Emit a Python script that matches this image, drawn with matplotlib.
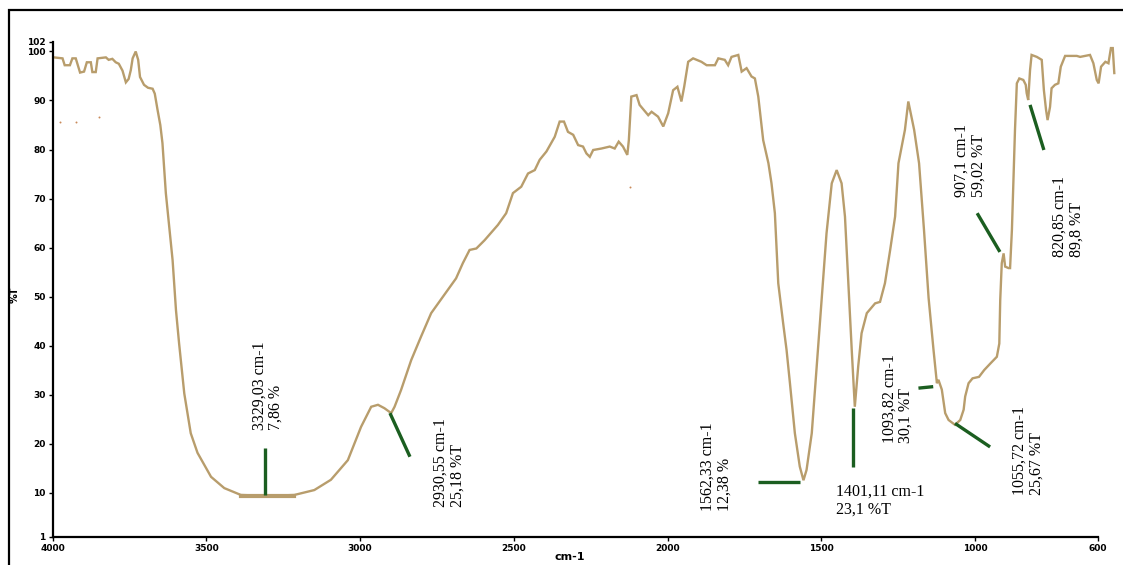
import numpy as np
import matplotlib
matplotlib.use("Agg")
import matplotlib.pyplot as plt
from matplotlib.patches import Rectangle

# FTIR spectrum: wavenumber (cm-1) and transmittance (%T)
wavenumber = [3996, 3968, 3961, 3944, 3936, 3925, 3911, 3898, 3889, 3876, 3871, 3860, 3854,
              3827, 3818, 3806, 3795, 3785, 3773, 3762, 3753, 3746, 3740, 3730, 3722, 3716,
              3703, 3690, 3675, 3668, 3659, 3650, 3643, 3632, 3621, 3610, 3599, 3589, 3572,
              3551, 3529, 3485, 3442, 3388, 3300, 3214, 3149, 3095, 3040, 2997, 2964, 2942,
              2921, 2899, 2888, 2867, 2834, 2802, 2769, 2730, 2688, 2666, 2644, 2622, 2595,
              2552, 2525, 2503, 2476, 2454, 2432, 2416, 2394, 2367, 2351, 2337, 2324, 2307,
              2291, 2275, 2264, 2253, 2242, 2215, 2188, 2172, 2159, 2145, 2131, 2126, 2118,
              2101, 2091, 2063, 2052, 2031, 2014, 1998, 1982, 1968, 1955, 1946, 1933, 1917,
              1890, 1873, 1846, 1835, 1814, 1803, 1792, 1770, 1759, 1743, 1727, 1716, 1705,
              1689, 1672, 1662, 1651, 1640, 1624, 1613, 1602, 1586, 1570, 1558, 1548, 1531,
              1515, 1499, 1483, 1466, 1450, 1434, 1423, 1412, 1401, 1391, 1380, 1369, 1352,
              1325, 1309, 1293, 1276, 1260, 1249, 1228, 1217, 1198, 1182, 1166, 1151, 1135,
              1124, 1119, 1108, 1097, 1086, 1065, 1048, 1037, 1032, 1021, 1008, 987, 970,
              949, 929, 921, 918, 913, 907, 902, 891, 886, 880, 870, 864, 856, 843, 835,
              832, 827, 821, 816, 799, 783, 776, 769, 764, 756, 751, 740, 729, 721, 707,
              669, 658, 626, 615, 604, 598, 590, 576, 566, 558, 552, 547]
transmittance = [98.8, 98.6, 97.2, 97.2, 98.6, 98.6, 95.7, 95.9, 97.8, 97.8, 95.8, 95.8, 98.6,
                 98.8, 98.3, 98.5, 97.8, 97.5, 96.1, 93.7, 94.4, 96.2, 98.6, 100.0, 98.3, 94.8,
                 93.2, 92.6, 92.4, 91.4, 88.1, 85.0, 81.3, 71.1, 64.2, 57.4, 47.2, 40.5, 30.2,
                 22.1, 18.1, 13.2, 10.9, 9.5, 9.3, 9.5, 10.5, 12.6, 16.6, 23.4, 27.5, 27.9,
                 27.2, 26.2, 27.5, 30.9, 37.0, 41.8, 46.6, 50.0, 53.7, 56.8, 59.5, 59.8, 61.5,
                 64.6, 67.0, 71.1, 72.4, 75.1, 75.8, 77.9, 79.6, 82.6, 85.7, 85.7, 83.6, 83.0,
                 80.9, 80.6, 79.2, 78.5, 79.9, 80.2, 80.6, 80.2, 81.6, 80.6, 78.9, 81.9, 90.8,
                 91.1, 89.1, 87.0, 87.7, 86.7, 84.7, 87.4, 92.1, 92.8, 89.8, 92.8, 97.9, 98.6,
                 97.9, 97.2, 97.2, 98.6, 98.3, 97.2, 98.9, 99.3, 95.9, 96.6, 94.9, 94.5, 90.8,
                 81.9, 77.2, 73.1, 67.0, 52.7, 44.5, 39.1, 32.3, 22.1, 15.3, 12.5, 14.6, 22.1,
                 35.7, 49.3, 62.9, 73.1, 75.8, 73.1, 66.3, 52.7, 39.1, 27.5, 35.7, 42.5, 46.6,
                 48.6, 48.9, 52.7, 59.5, 66.3, 77.2, 84.0, 89.8, 84.0, 77.2, 63.6, 49.7, 39.1,
                 32.3, 33.0, 31.0, 26.2, 24.8, 23.8, 24.8, 26.9, 29.6, 32.3, 33.3, 33.6, 35.0,
                 36.4, 37.7, 40.4, 49.3, 56.8, 58.8, 56.1, 55.8, 55.8, 63.6, 84.0, 93.5, 94.5,
                 94.2, 93.2, 91.5, 90.1, 96.2, 99.3, 98.9, 98.3, 92.1, 88.1, 86.0, 88.7, 92.5,
                 93.2, 93.5, 96.9, 99.1, 99.1, 98.9, 99.3, 97.6, 94.2, 93.5, 96.9, 97.9, 97.6,
                 100.7, 100.7, 95.6]

# stray specks of the trace
speck_wn = [3976, 3924, 3849, 2121]
speck_t = [85.7, 85.6, 86.6, 72.4]

# peak labels: text, text anchor (wn, %T), rotation, leader line (wn1, T1, wn2, T2)
label_text = ["3329,03 cm-1\n7,86 %", "2930,55 cm-1\n25,18 %T", "1562,33 cm-1\n12,38 %",
              "1401,11 cm-1\n23,1 %T", "1093,82 cm-1\n30,1 %T", "1055,72 cm-1\n25,67 %T",
              "907,1 cm-1\n59,02 %T", "820,85 cm-1\n89,8 %T"]
label_wn = [3301, 2711, 1842, 1452, 1252, 828, 1016, 697]
label_t = [22.8, 7.0, 6.2, 8.3, 20.2, 9.5, 70.3, 58.1]
label_rot = [90, 90, 90, 0, 90, 90, 90, 90]
leader_wn = [(3309, 3309), (2903, 2838), (1705, 1569), (1396, 1396),
             (1184, 1136), (1065, 951), (993, 919), (821, 776)]
leader_t = [(19.1, 9.5), (26.2, 17.3), (12.1, 12.1), (27.2, 15.3),
            (31.3, 31.6), (24.1, 19.3), (67.0, 59.1), (89.1, 79.9)]

xticks = [4000, 3500, 3000, 2500, 2000, 1500, 1000, 600]
yticks = [1, 10, 20, 30, 40, 50, 60, 70, 80, 90, 100, 102]

W, H = 1123, 565
fig = plt.figure(figsize=(W / 100, H / 100), dpi=100)
ax = fig.add_axes([52.7 / W, (H - 536.6) / H, (1118 - 52.7) / W, (536.6 - 30) / H])

trace = "#b89d6c"
ax.plot(wavenumber, transmittance, color=trace, lw=1.7, solid_joinstyle="miter")
ax.plot([3388, 3214], [9.3, 9.3], color=trace, lw=3.0)
ax.scatter(speck_wn, speck_t, s=2, color="#c98a5a", lw=0)

for i in range(len(label_text)):
    ax.plot(leader_wn[i], leader_t[i], color="#1b5e20", lw=2.4, solid_capstyle="butt")
    if label_rot[i] == 90:
        ax.text(label_wn[i], label_t[i], label_text[i], rotation=90, rotation_mode="anchor",
                ha="left", va="center", family="Liberation Serif", fontsize=11.5, linespacing=1.05)
    else:
        ax.text(label_wn[i], label_t[i], label_text[i], ha="left", va="center",
                family="Liberation Serif", fontsize=11.5, linespacing=1.15)

ax.set_xlim(4000, 4000 - (1118 - 52.7) / 0.30744)
ax.set_ylim(1, 100 + 21.5 / 4.9)
ax.spines["top"].set_visible(False)
ax.spines["right"].set_visible(False)
ax.spines["left"].set_bounds(1, 102)
ax.spines["bottom"].set_bounds(600, 4000)
ax.spines["left"].set_linewidth(1.6)
ax.spines["bottom"].set_linewidth(1.6)
ax.set_xticks(xticks)
ax.set_yticks(yticks)
ax.set_xticklabels([str(v) for v in xticks])
ax.set_yticklabels([str(v) for v in yticks])
ax.tick_params(direction="out", length=3, width=1, pad=2, labelsize=6.5)
for lab in ax.get_xticklabels() + ax.get_yticklabels():
    lab.set_fontweight("bold")

fig.text(15 / W, 1 - 295 / H, "%T", rotation=90, ha="center", va="center",
         fontsize=7, fontweight="bold")
fig.text(570 / W, 1 - 557 / H, "cm-1", ha="center", va="center",
         fontsize=8, fontweight="bold")

fig.patches.append(Rectangle((9 / W, -0.1), 1.2, 1.1 - 10 / H, transform=fig.transFigure,
                             fill=False, edgecolor="black", lw=1.6))

fig.savefig("out.png", dpi=100)
